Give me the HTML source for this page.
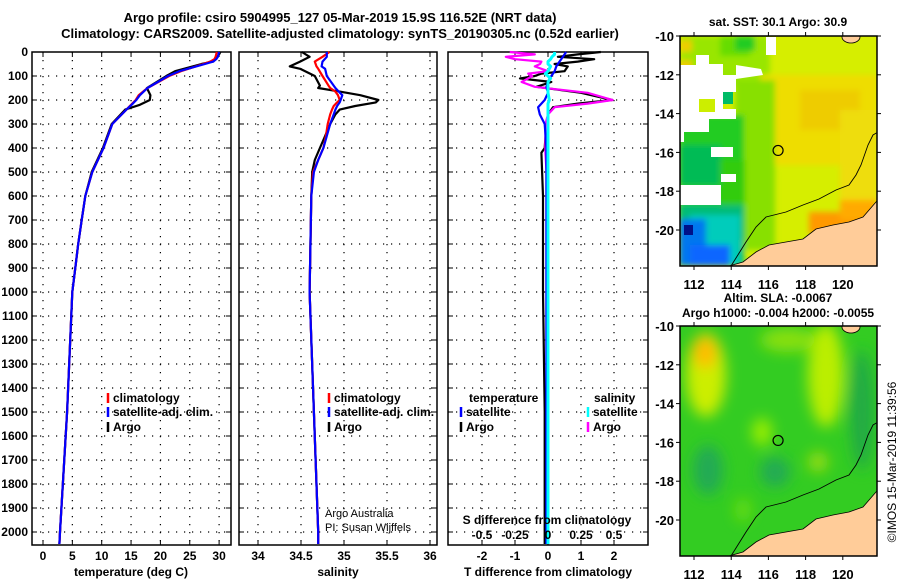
<!DOCTYPE html>
<html><head><meta charset="utf-8"><style>
html,body{margin:0;padding:0;background:#fff;}
svg{display:block;font-family:"Liberation Sans",Arial,sans-serif;}
.t{font-size:12px;font-weight:bold;fill:#000;}
.ti{font-size:13px;font-weight:bold;fill:#000;}
</style></head><body>
<svg id="fig" width="900" height="580" viewBox="0 0 900 580">
<defs>
<filter id="bl" x="-50%" y="-50%" width="200%" height="200%"><feGaussianBlur stdDeviation="7"/></filter>
<filter id="bl2" x="-20%" y="-20%" width="140%" height="140%"><feGaussianBlur stdDeviation="3"/></filter>
<clipPath id="c1"><rect x="680" y="36" width="197" height="230"/></clipPath>
<clipPath id="c2"><rect x="680" y="326" width="197" height="230"/></clipPath>
</defs>
<text class="ti" x="340" y="22" text-anchor="middle">Argo profile: csiro 5904995_127 05-Mar-2019 15.9S 116.52E (NRT data)</text>
<text class="ti" x="340" y="38" text-anchor="middle">Climatology: CARS2009. Satellite-adjusted climatology: synTS_20190305.nc (0.52d earlier)</text>
<g id="g"></g>
</svg>
<script>
// ---- data ----
const depthT = [0,10,20,30,40,50,80,100,150,180,200,220,240,300,400,500,600,700,800,900,1000,1500,2000,2050];
const tempArgo = [30.2,30,29.7,29.3,29,27,22.5,21,17.7,18.3,18.2,16.5,14,11.7,10.2,8.3,7.2,6.6,6,5.5,5,4.1,2.9,2.8];
const tempClim = [29.6,29.5,29.4,29.2,28.5,27.3,23.5,21.5,17.8,16.3,15.8,15.0,14.2,11.8,10.3,8.4,7.2,6.6,6,5.5,5,4.1,2.9,2.8];
const tempSat  = [30.0,29.9,29.8,29.5,29,27.6,23.2,21.3,17.8,16.5,15.9,15.1,14.2,11.8,10.3,8.4,7.2,6.6,6,5.5,5,4.1,2.9,2.8];
const depthS = [0,20,40,60,70,100,140,150,165,180,200,210,225,240,260,300,350,400,450,500,600,1000,1500,2000,2050];
const salArgo = [34.51,34.6,34.49,34.37,34.49,34.66,34.72,34.7,34.95,35.19,35.4,35.37,35.13,34.95,34.9,34.84,34.78,34.72,34.66,34.63,34.62,34.6,34.65,34.7,34.7];
const salClim = [34.83,34.75,34.66,34.68,34.7,34.75,34.82,34.84,34.9,34.93,34.95,34.92,34.88,34.86,34.84,34.81,34.79,34.76,34.7,34.64,34.62,34.6,34.65,34.7,34.7];
const salSat  = [34.8,34.8,34.75,34.74,34.78,34.8,34.88,34.9,34.94,34.98,34.96,34.95,34.92,34.9,34.88,34.84,34.8,34.76,34.7,34.65,34.62,34.6,34.65,34.7,34.7];
const depthD = [0,10,20,30,40,50,60,80,90,100,110,125,145,170,200,215,230,260,300,400,420,600,1000,1500,2000,2050];
const dTArgo = [1.6,0.9,0.3,1.4,0.9,0.2,0.6,0.5,-0.2,-0.4,-0.85,0.1,-0.35,1.0,1.95,0.9,0.15,0.0,-0.05,-0.1,-0.2,-0.15,-0.15,-0.1,-0.1,-0.1];
const dTSat  = [0.55,0.5,0.45,0.4,0.35,0.3,0.25,0.2,0.15,0.1,0.05,0.0,-0.05,0.0,-0.1,-0.2,-0.3,-0.25,-0.1,-0.05,-0.05,-0.05,-0.05,-0.05,-0.05,-0.05];
const dSArgo = [-0.29,-0.1,-0.32,-0.25,-0.05,-0.06,-0.1,0.0,-0.15,-0.12,-0.15,-0.2,-0.1,0.3,0.49,0.3,0.05,0.0,-0.02,-0.02,-0.02,0.0,0.0,0.0,0.0,0.0];
const dSSat  = [0.05,0.05,0.03,0.02,0.0,0.0,0.02,0.0,-0.02,0.0,0.02,0.0,0.0,0.0,0.01,0.0,0.0,0.0,0.0,0.0,0.0,0.0,0.0,0.0,0.0,0.0];
const depthTicks = [0,100,200,300,400,500,600,700,800,900,1000,1100,1200,1300,1400,1500,1600,1700,1800,1900,2000];
const tempTicks = [0,5,10,15,20,25,30];
const salTicks = [34,34.5,35,35.5,36];
const dTTicks = [-2,-1,0,1,2];
const dSTicks = [-0.5,-0.25,0,0.25,0.5];
const lonTicks = [112,114,116,118,120];
const latTicks = [-10,-12,-14,-16,-18,-20];

// ---- scales ----
const Y0=52, YB=545;
const yD = d => Y0 + d*0.24;
const P1={l:32,r:231}, P2={l:239,r:437}, P3={l:448,r:648};
const xT = t => 43 + t*5.87;
const xS = s => 258 + (s-34)*86;
const xDT = v => 548 + v*33;
const xDS = v => 548 + v*132;
const mx = lon => 694 + (lon-112)*18.6;
const my1 = lat => 36 + (-10-lat)*19.4;
const my2 = lat => 326 + (-10-lat)*19.4;

const NS="http://www.w3.org/2000/svg";
const G=document.getElementById('g');
function mk(tag,attrs,parent){const e=document.createElementNS(NS,tag);for(const k in attrs)e.setAttribute(k,attrs[k]);(parent||G).appendChild(e);return e;}
function txt(x,y,s,cls,anchor,parent){const e=mk('text',{x:x,y:y,class:cls||'t','text-anchor':anchor||'start'},parent);e.textContent=s;return e;}

function panel(P,ticks,xf,name){
  const gp=mk('g',{});
  
  
  depthTicks.forEach(d=>{ if(d>0) mk('line',{x1:P.l,x2:P.r,y1:yD(d),y2:yD(d),stroke:'#000','stroke-width':1.2,'stroke-dasharray':'1.2 6.8'},gp); });
  ticks.forEach(v=>{ const x=xf(v); mk('line',{x1:x,x2:x,y1:Y0,y2:YB,stroke:'#000','stroke-width':1.2,'stroke-dasharray':'1.2 6.8'},gp);
    mk('line',{x1:x,x2:x,y1:Y0,y2:Y0+5,stroke:'#000'},gp); mk('line',{x1:x,x2:x,y1:YB,y2:YB-5,stroke:'#000'},gp);});
  depthTicks.forEach(d=>{ mk('line',{x1:P.l,x2:P.l+5,y1:yD(d),y2:yD(d),stroke:'#000'},gp); mk('line',{x1:P.r,x2:P.r-5,y1:yD(d),y2:yD(d),stroke:'#000'},gp);});
  mk('rect',{x:P.l,y:Y0,width:P.r-P.l,height:YB-Y0,fill:'none',stroke:'#000','stroke-width':1.5},gp);
  return gp;
}
function line(gp,xs,ds,xf,color,name,w){
  const pts=xs.map((v,i)=>xf(v).toFixed(1)+','+yD(ds[i]).toFixed(1)).join(' ');
  const e=mk('polyline',{points:pts,fill:'none',stroke:color,'stroke-width':w||2.2,'stroke-linejoin':'round'},gp);
  
  
}
function legendItem(gp,x,y,color,label){
  mk('line',{x1:x,x2:x,y1:y-9,y2:y+1,stroke:color,'stroke-width':2.5},gp);
  const t=txt(x+5,y,label,'t','start',gp);
  
  
}

// panel 1
const g1=panel(P1,tempTicks,xT,'temperature-panel');
depthTicks.forEach(d=>{txt(28,yD(d)+4,String(d),'t','end',g1);});
tempTicks.forEach(v=>txt(xT(v),560,String(v),'t','middle',g1));
txt(131,576,'temperature (deg C)','t','middle',g1);
line(g1,tempArgo,depthT,xT,'#000','argo-temperature-line');
line(g1,tempClim,depthT,xT,'#f00','climatology-temperature-line');
line(g1,tempSat,depthT,xT,'#00f','satellite-temperature-line');
legendItem(g1,108,402,'#f00','climatology');
legendItem(g1,108,416,'#00f','satellite-adj. clim.');
legendItem(g1,108,431,'#000','Argo');

// panel 2
const g2=panel(P2,salTicks,xS,'salinity-panel');
salTicks.forEach(v=>txt(xS(v),560,String(v),'t','middle',g2));
txt(338,576,'salinity','t','middle',g2);
line(g2,salArgo,depthS,xS,'#000','argo-salinity-line');
line(g2,salClim,depthS,xS,'#f00','climatology-salinity-line');
line(g2,salSat,depthS,xS,'#00f','satellite-salinity-line');
legendItem(g2,329,402,'#f00','climatology');
legendItem(g2,329,416,'#00f','satellite-adj. clim.');
legendItem(g2,329,431,'#000','Argo');
txt(325,517,'Argo Australia','t','start',g2).setAttribute('style','font-weight:normal;font-size:11px');
txt(325,531,'PI: Susan Wijffels','t','start',g2).setAttribute('style','font-weight:normal;font-size:11px');

// panel 3
const g3=panel(P3,dTTicks,xDT,'difference-panel');
dTTicks.forEach(v=>txt(xDT(v),560,String(v),'t','middle',g3));
txt(548,576,'T difference from climatology','t','middle',g3);
line(g3,dTArgo,depthD,xDT,'#000','argo-t-difference-line');
line(g3,dSArgo,depthD,xDS,'#f0f','argo-s-difference-line');
line(g3,dTSat,depthD,xDT,'#00f','satellite-t-difference-line');
line(g3,dSSat,depthD,xDS,'#0ff','satellite-s-difference-line',3);
txt(469,402,'temperature','t','start',g3);
legendItem(g3,461,416,'#00f','satellite');
legendItem(g3,461,431,'#000','Argo');
txt(594,402,'salinity','t','start',g3);
legendItem(g3,588,416,'#0ff','satellite');
legendItem(g3,588,431,'#f0f','Argo');
txt(547,524,'S difference from climatology','t','middle',g3);
dSTicks.forEach(v=>txt(xDS(v),539,String(v).replace('0.','.').replace('-.','-0.').replace(/^\./,'0.'),'t','middle',g3));

// maps
const landD = "M729,266 L743,262 L756,252 L769,245 L786,242 L803,239 L816,229 L833,225 L849,222 L863,217 L876,202 L878,200 L878,270 L729,270 Z";
const isoD = "M731,266 L746,242 L756,227 L766,217 L786,212 L803,205 L819,199 L836,190 L849,185 L856,175 L861,165 L868,145 L873,135 L878,132";
function mapFrame(my,top,name,clip,drawFn){
  const gm=mk('g',{});
  
  
  const inner=mk('g',{'clip-path':'url(#'+clip+')'},gm);
  drawFn(inner);
  const ox=top-36;
  mk('path',{d:landD,fill:'#ffcc99',stroke:'#000','stroke-width':0.8,transform:'translate(0,'+ox+')'},inner);
  mk('path',{d:isoD,fill:'none',stroke:'#000','stroke-width':0.9,transform:'translate(0,'+ox+')'},inner);
  mk('ellipse',{cx:851,cy:37+ox,rx:9,ry:6,fill:'#ffcc99',stroke:'#000','stroke-width':0.8},inner);
  mk('circle',{cx:mx(116.52),cy:my(-15.9),r:5,fill:'none',stroke:'#000','stroke-width':1.2},gm);
  mk('rect',{x:680,y:top,width:197,height:230,fill:'none',stroke:'#000','stroke-width':1.5},gm);
  lonTicks.forEach(l=>{mk('line',{x1:mx(l),x2:mx(l),y1:top,y2:top-4,stroke:'#000'},gm);mk('line',{x1:mx(l),x2:mx(l),y1:top+230,y2:top+234,stroke:'#000'},gm);
    txt(mx(l),top+253,String(l),'ti','middle',gm);});
  latTicks.forEach(l=>{const y=my(l);mk('line',{x1:676,x2:680,y1:y,y2:y,stroke:'#000'},gm);mk('line',{x1:877,x2:881,y1:y,y2:y,stroke:'#000'},gm);
    txt(674,y+5,String(l),'ti','end',gm);});
  return gm;
}
mapFrame(my1,36,'sst-map','c1',function(p){
  mk('rect',{x:680,y:36,width:197,height:230,fill:'#d6ee00'},p);
  const gb=mk('g',{filter:'url(#bl2)'},p);
  [['#99e600',680,36,90,50],['#66dd00',720,36,30,20],['#22cc22',735,36,20,15],
   ['#eedd00',760,75,117,90],['#eecc00',800,90,60,40],['#eedd11',840,110,37,90],
   ['#88e000',735,80,40,170],['#22cc22',679,115,65,115],['#00bb55',679,145,42,40],
   ['#33cc11',720,160,25,80],['#00bb77',679,205,65,61],['#00ccbb',690,215,50,51],
   ['#0077ee',679,219,27,47],['#1166ff',690,245,40,21],['#ff9900',809,212,68,22],['#ffaa00',840,200,37,20],
   ['#eecc00',680,40,12,12],['#eecc00',680,60,12,20]
  ].forEach(r=>mk('rect',{x:r[1],y:r[2],width:r[3],height:r[4],fill:r[0]},gb));
  mk('rect',{x:684,y:225,width:9,height:10,fill:'#001188'},p);
  mk('polygon',{points:'679,65 696,65 696,55 709,55 709,64 723,64 723,75 736,75 736,65 761,69 763,75 736,79 736,92 723,92 723,109 736,109 736,119 709,119 709,132 684,132 684,142 679,142',fill:'#fff'},p);
  mk('rect',{x:699,y:99,width:16,height:13,fill:'#ccee00'},p);
  mk('rect',{x:723,y:92,width:10,height:12,fill:'#00bb66'},p);
  mk('rect',{x:766,y:37,width:10,height:18,fill:'#fff'},p);
  mk('rect',{x:711,y:147,width:22,height:10,fill:'#fff'},p);
  mk('rect',{x:679,y:185,width:42,height:20,fill:'#fff'},p);
  mk('rect',{x:721,y:174,width:15,height:8,fill:'#fff'},p);
});
mapFrame(my2,326,'sla-map','c2',function(p){
  mk('rect',{x:680,y:326,width:197,height:230,fill:'#33cc22'},p);
  const gb=mk('g',{filter:'url(#bl)'},p);
  mk('ellipse',{cx:706,cy:375,rx:20,ry:42,fill:'#ccee00'},gb);
  mk('ellipse',{cx:705,cy:352,rx:12,ry:16,fill:'#ffbb00'},gb);
  mk('ellipse',{cx:826,cy:375,rx:18,ry:52,fill:'#bbee00'},gb);
  mk('ellipse',{cx:788,cy:340,rx:28,ry:12,fill:'#88e011'},gb);
  mk('ellipse',{cx:762,cy:432,rx:10,ry:14,fill:'#99ee00'},gb);
  mk('ellipse',{cx:708,cy:470,rx:15,ry:25,fill:'#22aa55'},gb);
  mk('ellipse',{cx:775,cy:472,rx:15,ry:15,fill:'#22aa55'},gb);
  mk('ellipse',{cx:862,cy:410,rx:12,ry:60,fill:'#22aa44'},gb);
  mk('ellipse',{cx:818,cy:462,rx:10,ry:10,fill:'#99dd11'},gb);
  mk('ellipse',{cx:743,cy:510,rx:8,ry:12,fill:'#66dd11'},gb);
});
txt(778,26,'sat. SST: 30.1 Argo: 30.9','t','middle');
txt(778,302,'Altim. SLA: -0.0067','t','middle');
txt(778,317,'Argo h1000: -0.004 h2000: -0.0055','t','middle');
const c=txt(0,0,'©IMOS 15-Mar-2019 11:39:56','t','middle');
c.setAttribute('transform','translate(896,462) rotate(-90)');
c.setAttribute('style','font-weight:normal;font-size:12px');


</script>
</body></html>
